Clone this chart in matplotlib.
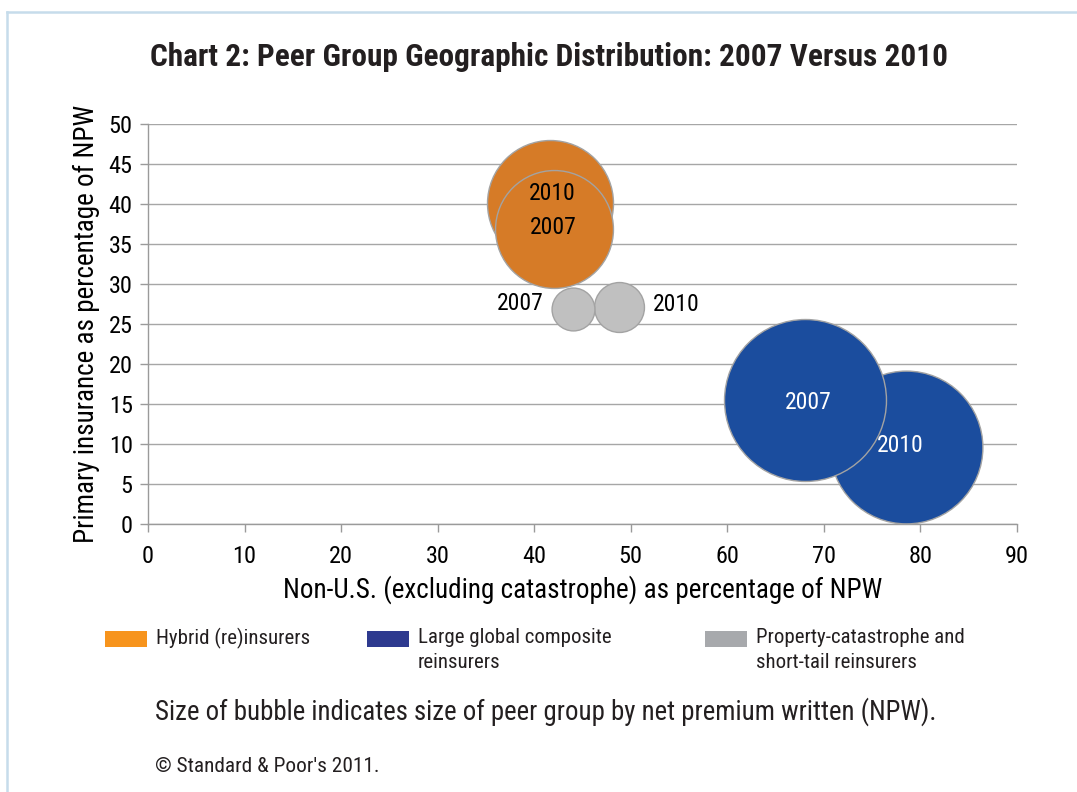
import matplotlib
matplotlib.use("Agg")
import matplotlib.pyplot as plt
from matplotlib import font_manager
from matplotlib.patches import Rectangle
from matplotlib.lines import Line2D

# ---------------- data ----------------
groups = ["Hybrid (re)insurers", "Large global composite\nreinsurers",
          "Property-catastrophe and\nshort-tail reinsurers"]
years = ["2007", "2010"]
# x: Non-U.S. (excl. catastrophe) % of NPW ; y: primary insurance % of NPW
hybrid_x = [42.1, 41.6]
hybrid_y = [36.9, 40.1]
hybrid_size = [53.0, 60.5]
large_x = [68.0, 78.5]
large_y = [15.5, 9.6]
large_size = [100.0, 89.0]
prop_x = [44.0, 48.8]
prop_y = [26.9, 27.1]
prop_size = [7.0, 9.5]

x_ticks = [0, 10, 20, 30, 40, 50, 60, 70, 80, 90]
y_ticks = [0, 5, 10, 15, 20, 25, 30, 35, 40, 45, 50]

# ---------------- fonts ----------------
avail = {f.name for f in font_manager.fontManager.ttflist}
fam = "DejaVu Sans"
for cand in ["Liberation Sans Narrow", "Roboto Condensed", "DejaVu Sans Condensed",
             "Open Sans Condensed", "Roboto", "Liberation Sans"]:
    if cand in avail:
        fam = cand
        break
plt.rcParams["font.family"] = [fam, "DejaVu Sans"]

W, H = 1077, 792
fig = plt.figure(figsize=(W / 100, H / 100), dpi=100)
ax = fig.add_axes([148 / W, 1 - 524 / H, (1017 - 148) / W, (524 - 124) / H])

bubble_cols = {"hybrid": "#D67B27", "large": "#1B4D9E", "prop": "#C0C0C0"}
legend_cols = ["#F7941D", "#2E3A8F", "#A7A9AC"]
edge = "#A3A3A3"
SCALE = 136.0  # marker area (pt^2) per size unit

series = [
    ("hybrid", hybrid_x, hybrid_y, hybrid_size),
    ("large", large_x, large_y, large_size),
    ("prop", prop_x, prop_y, prop_size),
]
# draw 2010 first, then 2007 on top
for idx in [1, 0]:
    for key, xs, ys, ss in series:
        ax.scatter([xs[idx]], [ys[idx]], s=[ss[idx] * SCALE], color=bubble_cols[key],
                   edgecolor=edge, linewidth=1.0, zorder=3 + (1 - idx))

# labels
lab_fs = 17
ax.annotate(years[1], (hybrid_x[1], hybrid_y[1]), xytext=(2, 7), textcoords="offset points",
            ha="center", va="center", fontsize=lab_fs, color="black", zorder=10)
ax.annotate(years[0], (hybrid_x[0], hybrid_y[0]), xytext=(-1, 1), textcoords="offset points",
            ha="center", va="center", fontsize=lab_fs, color="black", zorder=10)
ax.annotate(years[0], (prop_x[0], prop_y[0]), xytext=(-38, 4), textcoords="offset points",
            ha="center", va="center", fontsize=lab_fs, color="black", zorder=10)
ax.annotate(years[1], (prop_x[1], prop_y[1]), xytext=(41, 2), textcoords="offset points",
            ha="center", va="center", fontsize=lab_fs, color="black", zorder=10)
ax.annotate(years[0], (large_x[0], large_y[0]), xytext=(3, -2), textcoords="offset points",
            ha="center", va="center", fontsize=lab_fs, color="white", zorder=10)
ax.annotate(years[1], (large_x[1], large_y[1]), xytext=(-4, 1), textcoords="offset points",
            ha="center", va="center", fontsize=lab_fs, color="white", zorder=10)

ax.set_xlim(0, 90)
ax.set_ylim(0, 50)
ax.set_xticks(x_ticks)
ax.set_yticks(y_ticks)
ax.tick_params(axis="both", labelsize=17.5, colors="#9A9A9A", labelcolor="black",
               length=6, width=1, direction="out")
ax.tick_params(axis="x", pad=9)
ax.tick_params(axis="y", pad=5)
ax.yaxis.grid(True, color="#A6A6A6", linewidth=1)
ax.set_axisbelow(True)
for s in ["top", "right"]:
    ax.spines[s].set_visible(False)
for s in ["left", "bottom"]:
    ax.spines[s].set_color("#9A9A9A")
    ax.spines[s].set_linewidth(1)

ax.set_xlabel("Non-U.S. (excluding catastrophe) as percentage of NPW", fontsize=19.5, labelpad=5.5)
ax.set_ylabel("Primary insurance as percentage of NPW", fontsize=19.5, labelpad=6)

fig.text(549 / W, 1 - 57 / H, "Chart 2: Peer Group Geographic Distribution: 2007 Versus 2010",
         ha="center", va="center", fontsize=22.5, fontweight="bold", color="#231F20")

# legend (custom)
leg_x = [105, 367, 705]
for i, (lab, col) in enumerate(zip(groups, legend_cols)):
    x0 = leg_x[i]
    fig.patches.append(Rectangle((x0 / W, 1 - 647 / H), 42 / W, 16 / H,
                                 transform=fig.transFigure, facecolor=col, edgecolor="none"))
    fig.text((x0 + 51) / W, 1 - 628 / H, lab, ha="left", va="top", fontsize=15,
             linespacing=1.42, color="#231F20")

fig.text(155 / W, 1 - 712 / H,
         "Size of bubble indicates size of peer group by net premium written (NPW).",
         ha="left", va="center", fontsize=19.4, color="#231F20")
fig.text(155 / W, 1 - 767 / H, "\u00a9 Standard & Poor's 2011.",
         ha="left", va="center", fontsize=15.3, color="#231F20")

# frame lines (top and left)
fig.add_artist(Line2D([6.5 / W, 1.0], [1 - 12 / H, 1 - 12 / H], transform=fig.transFigure,
                      color="#C6DCEB", linewidth=1.8))
fig.add_artist(Line2D([6.5 / W, 6.5 / W], [0, 1 - 12 / H], transform=fig.transFigure,
                      color="#C6DCEB", linewidth=1.8))

fig.savefig("out.png", dpi=100)
